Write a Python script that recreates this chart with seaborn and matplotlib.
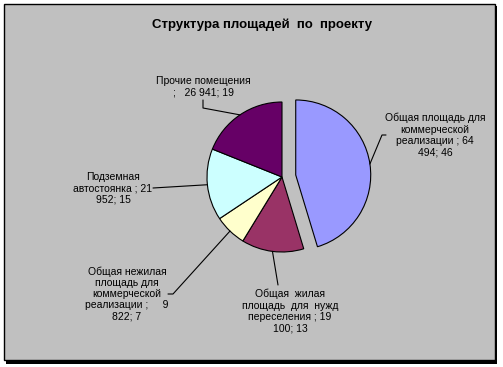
import numpy as np
import matplotlib
matplotlib.use("Agg")
import matplotlib.pyplot as plt
import seaborn as sns
from matplotlib.patches import Rectangle

# data
labels = [
    "Общая площадь для\nкоммерческой\nреализации ; 64\n494; 46",
    "Общая  жилая\nплощадь  для  нужд\nпереселения ; 19\n100; 13",
    "Общая нежилая\nплощадь для\nкоммерческой\nреализации ;     9\n822; 7",
    "Подземная\nавтостоянка ; 21\n952; 15",
    "Прочие помещения\n;   26 941; 19",
]
areas = [64494, 19100, 9822, 21952, 26941]
explode = [0.185, 0, 0, 0, 0]
colors = ["#9999FF", "#993366", "#FFFFCC", "#CCFFFF", "#660066"]
title = "Структура площадей  по  проекту"

sns.set_style("white")
plt.rcParams["font.family"] = ["Liberation Sans", "DejaVu Sans"]

W, H = 503, 367
fig = plt.figure(figsize=(W / 100, H / 100), dpi=100)
fig.patch.set_facecolor("white")

# frame with shadow (figure pixels, y from top)
bg = fig.add_axes([0, 0, 1, 1])
bg.set_xlim(0, W)
bg.set_ylim(H, 0)
bg.axis("off")
bg.add_patch(Rectangle((6, 6), 491, 358, facecolor="black", edgecolor="none"))
bg.add_patch(Rectangle((4, 4), 491, 356, facecolor="#C0C0C0", edgecolor="black", linewidth=1.0))
bg.text(262, 25, title, ha="center", va="center", fontsize=9.5, fontweight="bold", color="black")

# pie axes: center (282,177) px, radius 75 px
cx, cy, r = 282, 177, 75
half = 2 * r
ax = fig.add_axes([(cx - half) / W, (H - cy - half) / H, 2 * half / W, 2 * half / H])

wedges, _ = ax.pie(
    areas,
    colors=sns.color_palette(colors),
    explode=explode,
    startangle=90,
    counterclock=False,
    radius=1,
    wedgeprops=dict(edgecolor="black", linewidth=0.8),
)
ax.set_xlim(-2, 2)
ax.set_ylim(-2, 2)
ax.axis("off")


def px(x, y):
    return (x - cx) / r, (cy - y) / r


# label centres and leader-line points (pixels), per slice
label_pos = [(435, 135), (290, 311), (127, 294), (113, 188), (203, 87)]
leader_pts = [
    [(382, 135), (386, 135)],
    [(278, 285)],
    [(173, 294), (168, 294)],
    [(153, 188)],
    [(203, 108), (203, 100)],
]

for w, lab, pos, pts in zip(wedges, labels, label_pos, leader_pts):
    mid = np.deg2rad((w.theta1 + w.theta2) / 2)
    wx, wy = w.center
    ax_pt = (wx + w.r * np.cos(mid), wy + w.r * np.sin(mid))
    xs = [ax_pt[0]] + [px(*p)[0] for p in pts]
    ys = [ax_pt[1]] + [px(*p)[1] for p in pts]
    ax.plot(xs, ys, color="black", linewidth=0.8, clip_on=False)
    tx, ty = px(*pos)
    ax.text(tx, ty, lab, ha="center", va="center", fontsize=7.5,
            linespacing=1.15, color="black", clip_on=False)

fig.savefig("out.png", dpi=100, facecolor="white")
